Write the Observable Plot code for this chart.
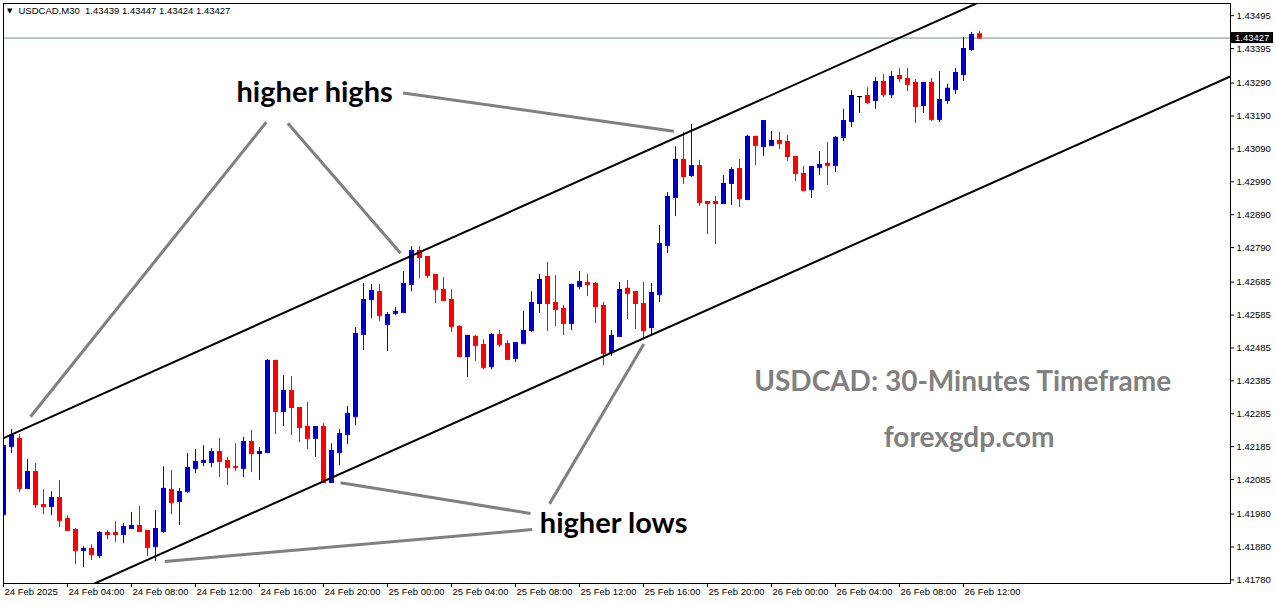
<!DOCTYPE html>
<html><head><meta charset="utf-8">
<script src="https://cdn.jsdelivr.net/npm/d3@7"></script>
<script src="https://cdn.jsdelivr.net/npm/@observablehq/plot@0.6"></script>
<style>
html,body{margin:0;padding:0;background:#fff;}
#chart{position:relative;width:1276px;height:604px;overflow:hidden;}
</style></head><body><div id="chart"></div>
<script>
// USDCAD M30 candles, bar 0 = 24 Feb 2025 00:00, one bar per 30 minutes
const opens = [1.41978,1.42185,1.42210,1.42058,1.42109,1.42009,1.42003,1.42030,1.41966,1.41933,
1.41869,1.41875,1.41854,1.41924,1.41924,1.41918,1.41936,1.41945,1.41930,1.41881,
1.41927,1.42054,1.42018,1.42048,1.42118,1.42137,1.42137,1.42170,1.42143,1.42124,
1.42118,1.42200,1.42164,1.42167,1.42447,1.42292,1.42355,1.42304,1.42246,1.42210,
1.42246,1.42076,1.42167,1.42222,1.42276,1.42526,1.42632,1.42656,1.42556,1.42590,
1.42593,1.42678,1.42781,1.42763,1.42708,1.42662,1.42632,1.42550,1.42459,1.42520,
1.42495,1.42428,1.42526,1.42498,1.42453,1.42498,1.42538,1.42620,1.42702,1.42623,
1.42605,1.42559,1.42672,1.42684,1.42681,1.42614,1.42471,1.42520,1.42666,1.42656,
1.42620,1.42547,1.42647,1.42796,1.42942,1.43058,1.43009,1.43039,1.42930,1.42930,
1.42924,1.42985,1.43030,1.42936,1.43128,1.43097,1.43100,1.43115,1.43112,1.43067,
1.43015,1.42966,1.43033,1.43046,1.43039,1.43125,1.43173,1.43249,1.43252,1.43237,
1.43295,1.43255,1.43313,1.43304,1.43292,1.43222,1.43292,1.43179,1.43237,1.43270,
1.43316,1.43392,1.43439];
const highs = [1.42210,1.42237,1.42222,1.42146,1.42134,1.42054,1.42048,1.42082,1.41975,1.41936,
1.41881,1.41887,1.41927,1.41930,1.41957,1.41951,1.41985,1.42003,1.41930,1.41991,
1.42124,1.42112,1.42058,1.42164,1.42176,1.42188,1.42179,1.42210,1.42152,1.42194,
1.42213,1.42234,1.42182,1.42450,1.42447,1.42401,1.42398,1.42304,1.42319,1.42246,
1.42255,1.42194,1.42237,1.42307,1.42547,1.42681,1.42678,1.42678,1.42593,1.42608,
1.42717,1.42793,1.42793,1.42763,1.42708,1.42699,1.42662,1.42553,1.42523,1.42523,
1.42510,1.42529,1.42538,1.42507,1.42501,1.42596,1.42656,1.42708,1.42745,1.42705,
1.42614,1.42678,1.42717,1.42708,1.42684,1.42623,1.42538,1.42684,1.42690,1.42656,
1.42684,1.42681,1.42857,1.42957,1.43097,1.43140,1.43164,1.43055,1.42930,1.42945,
1.43009,1.43033,1.43058,1.43131,1.43128,1.43176,1.43143,1.43140,1.43131,1.43067,
1.43036,1.43036,1.43082,1.43109,1.43128,1.43210,1.43267,1.43249,1.43276,1.43307,
1.43316,1.43325,1.43334,1.43334,1.43301,1.43292,1.43304,1.43325,1.43286,1.43334,
1.43429,1.43444,1.43447];
const lows = [1.41975,1.42164,1.42045,1.42058,1.41997,1.41978,1.41975,1.41939,1.41930,1.41826,
1.41817,1.41839,1.41845,1.41902,1.41893,1.41890,1.41933,1.41927,1.41851,1.41836,
1.41921,1.41978,1.41945,1.42042,1.42103,1.42124,1.42121,1.42091,1.42067,1.42109,
1.42091,1.42106,1.42082,1.42167,1.42222,1.42246,1.42219,1.42197,1.42176,1.42152,
1.42076,1.42076,1.42127,1.42191,1.42249,1.42477,1.42574,1.42565,1.42474,1.42583,
1.42593,1.42656,1.42696,1.42696,1.42620,1.42626,1.42532,1.42459,1.42395,1.42444,
1.42419,1.42419,1.42486,1.42450,1.42441,1.42498,1.42532,1.42590,1.42535,1.42550,
1.42523,1.42538,1.42662,1.42641,1.42559,1.42431,1.42459,1.42520,1.42571,1.42541,
1.42514,1.42523,1.42623,1.42772,1.42884,1.42982,1.43003,1.42915,1.42830,1.42799,
1.42921,1.42918,1.42912,1.42936,1.43039,1.43067,1.43100,1.43088,1.43052,1.42991,
1.42960,1.42939,1.43009,1.42979,1.43018,1.43112,1.43155,1.43198,1.43225,1.43210,
1.43246,1.43243,1.43292,1.43264,1.43167,1.43198,1.43173,1.43170,1.43225,1.43255,
1.43295,1.43386,1.43424];
const closes = [1.42188,1.42219,1.42058,1.42109,1.42009,1.42003,1.42030,1.41960,1.41930,1.41869,
1.41875,1.41857,1.41924,1.41918,1.41918,1.41942,1.41945,1.41927,1.41878,1.41936,
1.42058,1.42015,1.42048,1.42121,1.42140,1.42143,1.42170,1.42140,1.42121,1.42121,
1.42200,1.42164,1.42170,1.42447,1.42292,1.42355,1.42304,1.42243,1.42210,1.42246,
1.42076,1.42173,1.42225,1.42286,1.42529,1.42632,1.42659,1.42583,1.42586,1.42596,
1.42681,1.42781,1.42760,1.42705,1.42662,1.42629,1.42550,1.42459,1.42523,1.42492,
1.42425,1.42526,1.42495,1.42450,1.42501,1.42538,1.42623,1.42693,1.42620,1.42602,
1.42559,1.42678,1.42687,1.42678,1.42611,1.42468,1.42523,1.42662,1.42650,1.42620,
1.42538,1.42653,1.42802,1.42945,1.43058,1.43006,1.43039,1.42927,1.42924,1.42924,
1.42985,1.43027,1.42939,1.43128,1.43100,1.43176,1.43115,1.43106,1.43067,1.43015,
1.42963,1.43036,1.43042,1.43039,1.43125,1.43176,1.43252,1.43249,1.43231,1.43295,
1.43255,1.43310,1.43304,1.43286,1.43219,1.43292,1.43179,1.43240,1.43274,1.43322,
1.43395,1.43438,1.43427];

const xTickLabels = ["24 Feb 2025","24 Feb 04:00","24 Feb 08:00","24 Feb 12:00","24 Feb 16:00","24 Feb 20:00",
"25 Feb 00:00","25 Feb 04:00","25 Feb 08:00","25 Feb 12:00","25 Feb 16:00","25 Feb 20:00",
"26 Feb 00:00","26 Feb 04:00","26 Feb 08:00","26 Feb 12:00"];
const yTickValues = [1.43495,1.43395,1.43290,1.43190,1.43090,1.42990,1.42890,1.42790,1.42685,
1.42585,1.42485,1.42385,1.42285,1.42185,1.42085,1.41980,1.41880,1.41780];

// channel lines (bar index, price)
const upperChannel = [{i:0,p:1.42211},{i:125,p:1.43569}];
const lowerChannel = [{i:10,p:1.41754},{i:154,p:1.43317}];
// grey pointer lines (bar index, price)
const pointerLines = [
  {i1:49.96,p1:1.43260,i2:83.79,p2:1.43144},
  {i1:32.84,p1:1.43171,i2:3.375,p2:1.42276},
  {i1:35.54,p1:1.43168,i2:49.63,p2:1.42773},
  {i1:65.88,p1:1.41982,i2:42.13,p2:1.42075},
  {i1:66.09,p1:1.41933,i2:20.16,p2:1.41836},
  {i1:68.25,p1:1.42011,i2:80.04,p2:1.42497}
];
const annotations = [
  {text:"higher highs", i:29.125, p:1.43234},
  {text:"higher lows", i:67.04, p:1.41924}
];
const watermarks = [
  {text:"USDCAD: 30-Minutes Timeframe", i:119.9, p:1.42355},
  {text:"forexgdp.com", i:120.7, p:1.42185}
];
const headerText = "USDCAD,M30  1.43439 1.43447 1.43424 1.43427";

const BULL = "#0000CC", BEAR = "#FF0000", DOJI = "#000000";
const candles = opens.map((o, i) => ({
  i, open: o, high: highs[i], low: lows[i], close: closes[i],
  color: closes[i] > o ? BULL : closes[i] < o ? BEAR : DOJI
}));
const last = candles[candles.length - 1];

const plot = Plot.plot({
  width: 1276, height: 604,
  marginLeft: 3, marginRight: 46, marginTop: 3, marginBottom: 21,
  style: {background: "#fff", fontFamily: "'Liberation Sans', Arial, sans-serif", fontSize: "9.5px", color: "#000"},
  color: {type: "identity"},
  x: {type: "linear", domain: [0, 153.375], axis: "bottom",
      ticks: xTickLabels.map((_, k) => 8 * k),
      tickFormat: d => xTickLabels[Math.round(d / 8)],
      tickSize: 4, tickPadding: 1, label: null},
  y: {domain: [1.41769, 1.43532], axis: "right", ticks: yTickValues,
      tickFormat: d => d.toFixed(5), tickSize: 3, tickPadding: 3, label: null},
  marks: [
    Plot.ruleY([last.close], {stroke: "#778899", strokeWidth: 1}),
    Plot.ruleX(candles, {x: "i", y1: "low", y2: "high", stroke: "color", clip: true}),
    Plot.ruleX(candles, {x: "i", y1: "open", y2: "close", stroke: "color", strokeWidth: 5, clip: true}),
    Plot.ruleY(candles, {y: "open", x1: d => d.i - 0.25, x2: d => d.i + 0.375, stroke: "color", clip: true}),
    Plot.ruleY(candles, {y: "close", x1: d => d.i - 0.25, x2: d => d.i + 0.375, stroke: "color", clip: true}),
    Plot.line(upperChannel, {x: "i", y: "p", stroke: "#000", strokeWidth: 2, clip: true}),
    Plot.line(lowerChannel, {x: "i", y: "p", stroke: "#000", strokeWidth: 2, clip: true}),
    Plot.link(pointerLines, {x1: "i1", y1: "p1", x2: "i2", y2: "p2", stroke: "#808080", strokeWidth: 3, clip: true}),
    Plot.text(annotations, {x: "i", y: "p", text: "text", textAnchor: "start", lineAnchor: "bottom",
      fontFamily: "Lato, 'Open Sans', sans-serif", fontWeight: 700, fontSize: 29, fill: "#000"}),
    Plot.text(watermarks, {x: "i", y: "p", text: "text", textAnchor: "middle", lineAnchor: "bottom",
      fontFamily: "Lato, 'Open Sans', sans-serif", fontWeight: 700, fontSize: 28, fill: "#808080"}),
    Plot.text([headerText], {frameAnchor: "top-left", dx: 15, dy: 4, lineAnchor: "top", textAnchor: "start",
      fontSize: 9.5, fill: "#000"}),
    Plot.text(["▼"], {frameAnchor: "top-left", dx: 3.5, dy: 5, lineAnchor: "top", textAnchor: "start",
      fontSize: 7, fill: "#000", fontFamily: "'DejaVu Sans', sans-serif"}),
    Plot.frame({stroke: "#000"})
  ]
});

document.getElementById("chart").appendChild(plot);

// left-align time labels to the right of their tick, as in the terminal
d3.select(plot).selectAll('g[aria-label^="x-axis"] text').attr("text-anchor", "start").attr("dx", "1");

// current price tag on the price axis
const ys = plot.scale("y"), xs = plot.scale("x");
const tagY = ys.apply(last.close);
const tagX = xs.range[1] + 1;
const svg = d3.select(plot);
svg.append("rect").attr("x", tagX).attr("y", tagY - 5.5).attr("width", 42).attr("height", 11).attr("fill", "#000");
svg.append("text").attr("x", tagX + 4).attr("y", tagY + 3.5).attr("fill", "#fff")
  .attr("text-anchor", "start")
  .attr("font-size", "9.5px").attr("font-family", "'Liberation Sans', Arial, sans-serif")
  .text(last.close.toFixed(5));
</script>
</body></html>
